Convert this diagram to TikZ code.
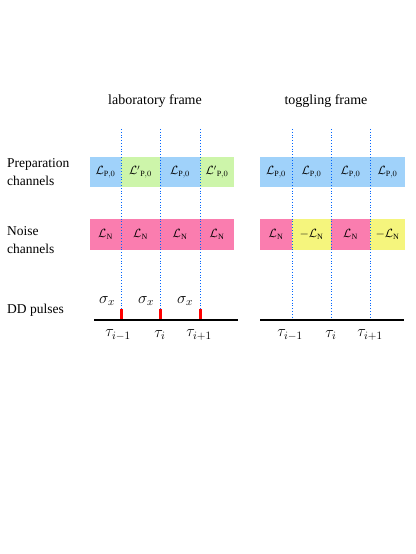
\RequirePackage{fix-cm}
\documentclass[tikz,border=0pt]{standalone}
\usepackage{fontspec}
\setmainfont{Liberation Serif}
\begin{document}
\begin{tikzpicture}[x=1pt,y=-1pt,
  cell/.style={inner sep=0pt, minimum height=30pt, font=\fontsize{12}{14}\selectfont},
  prepA/.style={cell, fill=blueF},
  prepB/.style={cell, fill=greenF},
  noiseA/.style={cell, fill=pinkF, minimum height=31pt},
  noiseB/.style={cell, fill=yellowF, minimum height=31pt},
  lbl/.style={anchor=west, align=left, inner sep=0pt, font=\fontsize{13.5}{18}\selectfont},
  ttl/.style={inner sep=0pt, font=\fontsize{14}{16}\selectfont},
  dotline/.style={draw=blue!60!cyan, dotted, line width=0.8pt},
  baseline/.style={draw=black, line width=2.2pt},
  pulse/.style={draw=red, line width=3pt},
  sig/.style={inner sep=0pt, font=\fontsize{16}{18}\selectfont},
  tau/.style={inner sep=0pt, font=\fontsize{16}{18}\selectfont}]
\definecolor{blueF}{RGB}{160,210,250}
\definecolor{greenF}{RGB}{205,245,170}
\definecolor{pinkF}{RGB}{250,125,175}
\definecolor{yellowF}{RGB}{245,245,125}
\useasboundingbox (0,0) rectangle (415,554);

% titles
\node[ttl] (t1) at (155,101) {laboratory frame};
\node[ttl] (t2) at (326,101) {toggling frame};

% row labels
\node[lbl] (r1) at (7,172) {Preparation\\channels};
\node[lbl] (r2) at (7,240) {Noise\\channels};
\node[lbl] (r3) at (7,310) {DD pulses};

% left prep row
\node[prepA, minimum width=31pt] (lp1) at (105.5,172) {$\mathcal{L}_{\mathrm{P},0}$};
\node[prepB, minimum width=39pt] (lp2) at (140.5,172) {${\mathcal{L}'}_{\mathrm{P},0}$};
\node[prepA, minimum width=40pt] (lp3) at (180,172) {$\mathcal{L}_{\mathrm{P},0}$};
\node[prepB, minimum width=34pt] (lp4) at (217,172) {${\mathcal{L}'}_{\mathrm{P},0}$};
% left noise row
\node[noiseA, minimum width=31pt] (ln1) at (105.5,234.5) {$\mathcal{L}_{\mathrm{N}}$};
\node[noiseA, minimum width=39pt] (ln2) at (140.5,234.5) {$\mathcal{L}_{\mathrm{N}}$};
\node[noiseA, minimum width=40pt] (ln3) at (180,234.5) {$\mathcal{L}_{\mathrm{N}}$};
\node[noiseA, minimum width=34pt] (ln4) at (217,234.5) {$\mathcal{L}_{\mathrm{N}}$};

% right prep row
\node[prepA, minimum width=32pt] (rp1) at (276,172) {$\mathcal{L}_{\mathrm{P},0}$};
\node[prepA, minimum width=39pt] (rp2) at (311.5,172) {$\mathcal{L}_{\mathrm{P},0}$};
\node[prepA, minimum width=39pt] (rp3) at (350.5,172) {$\mathcal{L}_{\mathrm{P},0}$};
\node[prepA, minimum width=35pt] (rp4) at (387.5,172) {$\mathcal{L}_{\mathrm{P},0}$};
% right noise row
\node[noiseA, minimum width=32pt] (rn1) at (276,234.5) {$\mathcal{L}_{\mathrm{N}}$};
\node[noiseB, minimum width=39pt] (rn2) at (311.5,234.5) {$-\mathcal{L}_{\mathrm{N}}$};
\node[noiseA, minimum width=39pt] (rn3) at (350.5,234.5) {$\mathcal{L}_{\mathrm{N}}$};
\node[noiseB, minimum width=35pt] (rn4) at (387.5,234.5) {$-\mathcal{L}_{\mathrm{N}}$};

% baselines
\coordinate (lbA) at (94,320);
\coordinate (lbB) at (238,320);
\coordinate (rbA) at (260,320);
\coordinate (rbB) at (404,320);
\draw[baseline] (lbA) -- (lbB);
\draw[baseline] (rbA) -- (rbB);

% dotted lines
\foreach \x/\n in {121/1,160/2,200/3} {
  \coordinate (lt\n) at (\x,129);
  \coordinate (lb\n) at (\x,318);
  \draw[dotline] (lt\n) -- (lb\n);
}
\foreach \x/\n in {292/1,331/2,370/3} {
  \coordinate (rt\n) at (\x,129);
  \coordinate (rb\n) at (\x,318);
  \draw[dotline] (rt\n) -- (rb\n);
}

% pulses
\foreach \x/\n in {121/1,160/2,200/3} {
  \coordinate (pt\n) at (\x,309);
  \coordinate (pb\n) at (\x,319);
  \draw[pulse] (pt\n) -- (pb\n);
}

% sigma labels
\node[sig] (s1) at (107,301) {$\sigma_x$};
\node[sig] (s2) at (146,301) {$\sigma_x$};
\node[sig] (s3) at (185,301) {$\sigma_x$};

% tau labels
\node[tau] (a1) at (118,335) {$\tau_{i-1}$};
\node[tau] (a2) at (160,335) {$\tau_i$};
\node[tau] (a3) at (199,335) {$\tau_{i+1}$};
\node[tau] (b1) at (290,335) {$\tau_{i-1}$};
\node[tau] (b2) at (331,335) {$\tau_i$};
\node[tau] (b3) at (370,335) {$\tau_{i+1}$};
\end{tikzpicture}
\end{document}
